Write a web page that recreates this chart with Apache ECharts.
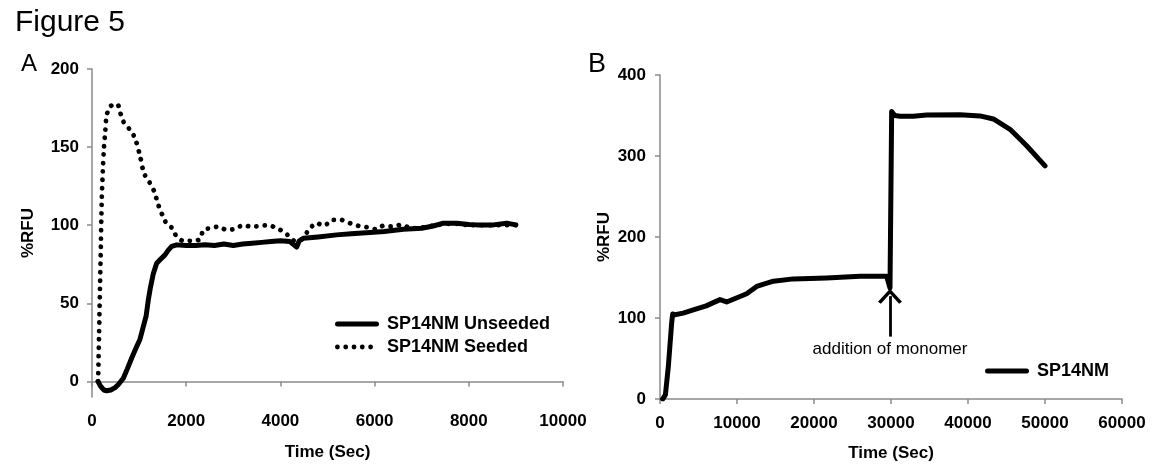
<!DOCTYPE html>
<html>
<head>
<meta charset="utf-8">
<script src="https://cdn.jsdelivr.net/npm/echarts@6/dist/echarts.min.js"></script>
<style>
html,body{margin:0;padding:0;background:#fff;}
#c{width:1163px;height:468px;}
</style>
</head>
<body>
<div id="c"></div>
<script>
// ---- Panel A data: [time (sec), %RFU]
var unseededA = [[127,0],[180,-3],[250,-5.5],[310,-6],[400,-5.5],[490,-4],[560,-2],[665,2],[750,8],[843,15],[930,21],[1019,27],[1089,35],[1150,42],[1195,52],[1240,60],[1302,69],[1373,75.6],[1450,78],[1550,81],[1620,84],[1692,86.4],[1798,87.4],[2000,87],[2200,87],[2400,87.5],[2600,87],[2800,88],[3000,87],[3200,88],[3400,88.5],[3600,89],[3800,89.5],[4000,90],[4200,89.5],[4346,86],[4400,90],[4487,91.6],[4800,92.5],[5195,93.8],[5500,94.5],[5902,95.3],[6200,96],[6610,97.4],[7000,98],[7247,99.5],[7459,101.3],[7742,101.3],[8000,100.5],[8167,100.2],[8520,100.2],[8805,101.3],[9000,100.2]];
var seededA = [[130,0],[150,30],[170,60],[190,90],[206,115],[230,135],[255,150],[282,160],[310,170],[382,176],[460,177],[537,177.5],[600,172],[665,166.4],[807,161],[913,155.7],[1019,144.4],[1104,133.3],[1210,128],[1316,122],[1408,113],[1493,106.6],[1585,101],[1705,98],[1798,92.7],[1939,90],[2080,90],[2293,91],[2364,97],[2505,98],[2682,99],[2859,97],[3036,97.6],[3213,100],[3389,99],[3567,99.5],[3744,100],[3920,98],[4098,95.3],[4300,90],[4450,91],[4593,96.5],[4770,101.3],[4926,99.7],[5103,103.4],[5280,103.4],[5478,101.3],[5654,99.6],[5845,98.7],[6030,97.4],[6185,99.6],[6384,99.1],[6554,100.2],[6800,98],[7000,98.5],[7300,100],[7700,101],[8000,100],[8500,100],[9000,100]];
var yTicksA = [0,50,100,150,200];

// ---- Panel B data
var sp14nmB = [[350,0],[700,5],[1082,40],[1515,94],[1645,105],[1950,104],[3000,106],[4329,110],[6000,115],[7792,122.7],[8658,119.8],[10000,125],[11255,130],[12554,139],[14718,145.4],[17316,148.3],[21645,149.5],[25974,151.5],[29437,151.5],[29870,137],[30086,354.8],[30500,350],[31169,349],[32900,349],[34632,350.5],[38961,351],[41558,349.5],[43290,345.7],[45455,333],[47619,312.6],[50000,287.8]];
var arrowB = {x: 29870, from: 77, to: 127, text: 'addition of monomer'};

var FONT = 'Liberation Sans, Arial, sans-serif';
var AXC = '#8a8a8a';

// legend icons (shape only)
var ICON_SOLID = 'path://M2.5,0 L41.5,0 A2.5,2.5 0 0,1 41.5,5 L2.5,5 A2.5,2.5 0 0,1 2.5,0 Z';
function dotsIcon() {
  var p = 'path://', r = 2.4;
  for (var i = 0; i < 5; i++) {
    var cx = r + i * 8.3;
    p += 'M' + (cx - r) + ',' + r + ' A' + r + ',' + r + ' 0 1,1 ' + (cx + r) + ',' + r +
         ' A' + r + ',' + r + ' 0 1,1 ' + (cx - r) + ',' + r + ' Z ';
  }
  p += 'M43.99,' + r + ' L44,' + r + ' L44,' + (r + 0.01) + ' Z';
  return p;
}

function axisCommon() {
  return {
    axisLine: {show: true, lineStyle: {color: AXC, width: 1.5}},
    axisTick: {show: true, length: 5, lineStyle: {color: AXC, width: 1.5}},
    splitLine: {show: false},
    axisLabel: {color: '#000', fontFamily: FONT, fontWeight: 'bold', fontSize: 17,
      formatter: function (v) { return String(v); }},
    nameTextStyle: {color: '#000', fontFamily: FONT, fontWeight: 'bold', fontSize: 17}
  };
}
function merge(a, b) { for (var k in b) a[k] = b[k]; return a; }

var chart = echarts.init(document.getElementById('c'));
var xA = merge(axisCommon(), {gridIndex: 0, type: 'value', min: 0, max: 10000, interval: 2000,
  name: 'Time (Sec)', nameLocation: 'middle', nameGap: 47});
xA.axisLabel.margin = 16;
var yA = merge(axisCommon(), {gridIndex: 0, type: 'value', min: -10, max: 200,
  name: '%RFU', nameLocation: 'middle', nameGap: 55});
yA.axisLabel.customValues = yTicksA; yA.axisLabel.margin = 13;
yA.axisTick.customValues = yTicksA;
var xB = merge(axisCommon(), {gridIndex: 1, type: 'value', min: 0, max: 60000, interval: 10000,
  name: 'Time (Sec)', nameLocation: 'middle', nameGap: 46});
xB.axisLabel.margin = 16;
var yB = merge(axisCommon(), {gridIndex: 1, type: 'value', min: 0, max: 400, interval: 100,
  name: '%RFU', nameLocation: 'middle', nameGap: 47});
yB.axisLabel.margin = 14;

var legendText = {fontFamily: FONT, fontWeight: 'bold', fontSize: 18, color: '#000', padding: [0, 0, 0, 3]};

chart.setOption({
  animation: false,
  backgroundColor: '#fff',
  title: [
    {text: 'Figure 5', left: 15, top: 8, padding: 0, textStyle: {fontFamily: FONT, fontWeight: 'normal', fontSize: 30, color: '#000'}},
    {text: 'A', left: 21, top: 52, padding: 0, textStyle: {fontFamily: FONT, fontWeight: 'normal', fontSize: 24, color: '#000'}},
    {text: 'B', left: 588, top: 51, padding: 0, textStyle: {fontFamily: FONT, fontWeight: 'normal', fontSize: 27, color: '#000'}}
  ],
  grid: [
    {left: 92, top: 69, width: 471, height: 328},
    {left: 660, top: 75, width: 462, height: 324}
  ],
  xAxis: [xA, xB],
  yAxis: [yA, yB],
  legend: [
    {data: [{name: 'SP14NM Unseeded', icon: ICON_SOLID}, {name: 'SP14NM Seeded', icon: dotsIcon()}],
     orient: 'vertical', left: 335, top: 315, padding: 0,
     itemWidth: 44, itemHeight: 14, itemGap: 5, symbolKeepAspect: true,
     itemStyle: {color: '#000', borderWidth: 0}, lineStyle: {width: 0},
     textStyle: legendText},
    {data: [{name: 'SP14NM', icon: ICON_SOLID}], orient: 'vertical', left: 985, top: 362, padding: 0,
     itemWidth: 44, itemHeight: 14, symbolKeepAspect: true,
     itemStyle: {color: '#000', borderWidth: 0}, lineStyle: {width: 0},
     textStyle: legendText}
  ],
  series: [
    {name: 'SP14NM Seeded', type: 'line', xAxisIndex: 0, yAxisIndex: 0, data: seededA,
     showSymbol: false, symbol: 'none', smooth: 0.3, color: '#000',
     lineStyle: {color: '#000', width: 4.8, type: [0.1, 8.3], cap: 'round'}},
    {name: 'SP14NM Unseeded', type: 'line', xAxisIndex: 0, yAxisIndex: 0, data: unseededA,
     showSymbol: false, symbol: 'none', color: '#000',
     lineStyle: {color: '#000', width: 5, cap: 'round', join: 'round'}},
    {name: 'SP14NM', type: 'line', xAxisIndex: 1, yAxisIndex: 1, data: sp14nmB,
     showSymbol: false, symbol: 'none', color: '#000',
     lineStyle: {color: '#000', width: 5, cap: 'round', join: 'round'},
     markLine: {
       silent: true, animation: false,
       symbol: ['none', 'path://M10,0 L20,11 L17.6,12.6 L10,4.4 L2.4,12.6 L0,11 Z'],
       symbolSize: [24, 15],
       lineStyle: {color: '#000', width: 2.8, type: 'solid'},
       itemStyle: {color: '#000'},
       label: {show: true, position: 'start', distance: 4, formatter: arrowB.text,
         fontFamily: FONT, fontSize: 17, color: '#000'},
       data: [[{coord: [arrowB.x, arrowB.from]}, {coord: [arrowB.x, arrowB.to]}]]
     }}
  ]
});
</script>
</body>
</html>
